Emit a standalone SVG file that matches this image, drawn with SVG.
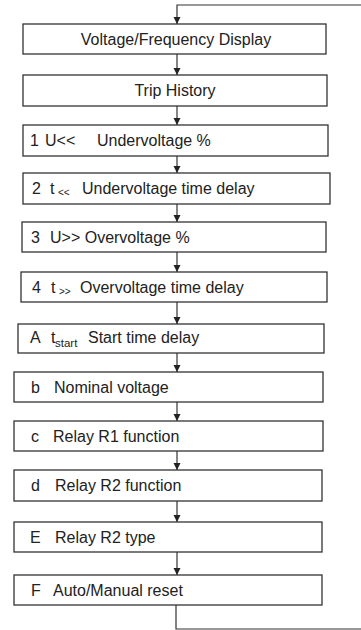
<svg xmlns="http://www.w3.org/2000/svg" width="361" height="630" viewBox="0 0 361 630">
<style>
.box{fill:#fff;stroke:#333;stroke-width:1.3}
.t{font-family:"Liberation Sans",Arial,sans-serif;font-size:16px;fill:#222}
.s{font-size:10px}
.ss{font-size:11.5px}
.c{text-anchor:middle}
.ln{fill:none;stroke:#333;stroke-width:1.2}
</style>
<defs>
<marker id="ah" markerWidth="8" markerHeight="8" refX="7" refY="4" orient="auto" markerUnits="userSpaceOnUse">
<path d="M0,0.5 L7,4 L0,7.5 Z" fill="#222"/>
</marker>
</defs>
<g id="connectors">
<path class="ln" d="M364,5 H177 V24" marker-end="url(#ah)"/>
<path class="ln" d="M177,54 V75" marker-end="url(#ah)"/>
<path class="ln" d="M177,106 V125" marker-end="url(#ah)"/>
<path class="ln" d="M177,156 V173" marker-end="url(#ah)"/>
<path class="ln" d="M177,204 V222" marker-end="url(#ah)"/>
<path class="ln" d="M177,252 V272" marker-end="url(#ah)"/>
<path class="ln" d="M177,302 V324" marker-end="url(#ah)"/>
<path class="ln" d="M177,353 V372" marker-end="url(#ah)"/>
<path class="ln" d="M177,402 V421" marker-end="url(#ah)"/>
<path class="ln" d="M177,451 V470" marker-end="url(#ah)"/>
<path class="ln" d="M177,501 V522" marker-end="url(#ah)"/>
<path class="ln" d="M177,552 V575" marker-end="url(#ah)"/>
<path class="ln" d="M176,605 V629 H364"/>
</g>
<g id="n1"><rect class="box" x="23" y="24" width="303" height="30"/><text class="t c" x="176" y="45">Voltage/Frequency Display</text></g>
<g id="n2"><rect class="box" x="23" y="75" width="304" height="31"/><text class="t c" x="175" y="96">Trip History</text></g>
<g id="n3"><rect class="box" x="23" y="125" width="305" height="31"/><text class="t" y="146"><tspan x="30">1</tspan><tspan x="45">U&lt;&lt;</tspan><tspan x="97">Undervoltage %</tspan></text></g>
<g id="n4"><rect class="box" x="23" y="173" width="307" height="31"/><text class="t" y="194"><tspan x="32">2</tspan><tspan x="50">t</tspan><tspan x="58" class="s" dy="2">&lt;&lt;</tspan><tspan x="82" dy="-2">Undervoltage time delay</tspan></text></g>
<g id="n5"><rect class="box" x="22" y="222" width="304" height="30"/><text class="t" y="243"><tspan x="31">3</tspan><tspan x="50">U&gt;&gt; Overvoltage %</tspan></text></g>
<g id="n6"><rect class="box" x="21" y="272" width="306" height="30"/><text class="t" y="293"><tspan x="32">4</tspan><tspan x="51">t</tspan><tspan x="59" class="s" dy="2">&gt;&gt;</tspan><tspan x="80" dy="-2">Overvoltage time delay</tspan></text></g>
<g id="n7"><rect class="box" x="18" y="324" width="306" height="29"/><text class="t" y="343"><tspan x="30">A</tspan><tspan x="51">t</tspan><tspan x="55" class="ss" dy="4">start</tspan><tspan x="88" dy="-4">Start time delay</tspan></text></g>
<g id="n8"><rect class="box" x="14" y="372" width="309" height="30"/><text class="t" y="393"><tspan x="31">b</tspan><tspan x="54">Nominal voltage</tspan></text></g>
<g id="n9"><rect class="box" x="14" y="421" width="309" height="30"/><text class="t" y="442"><tspan x="31">c</tspan><tspan x="53">Relay R1 function</tspan></text></g>
<g id="n10"><rect class="box" x="14" y="470" width="308" height="31"/><text class="t" y="491"><tspan x="31">d</tspan><tspan x="55">Relay R2 function</tspan></text></g>
<g id="n11"><rect class="box" x="14" y="522" width="308" height="30"/><text class="t" y="543"><tspan x="30">E</tspan><tspan x="55">Relay R2 type</tspan></text></g>
<g id="n12"><rect class="box" x="14" y="575" width="308" height="30"/><text class="t" y="596"><tspan x="31">F</tspan><tspan x="53">Auto/Manual reset</tspan></text></g>
</svg>
